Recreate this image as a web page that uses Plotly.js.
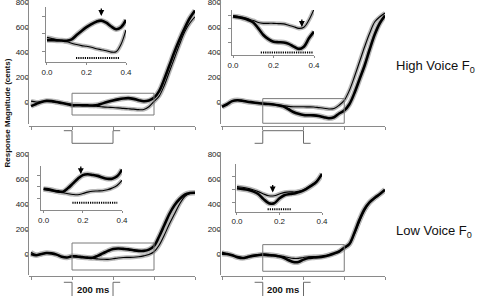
<!DOCTYPE html>
<html><head><meta charset="utf-8">
<script src="https://cdn.plot.ly/plotly-3.0.1.min.js"></script>
<style>html,body{margin:0;padding:0;background:#fff}#chart{width:480px;height:296px}</style>
</head><body><div id="chart"></div>
<script>
// ---------- data ----------
const t = [-0.2,-0.175,-0.15,-0.125,-0.1,-0.075,-0.05,-0.025,0,0.025,0.05,0.075,0.1,0.125,0.15,0.175,0.2,0.225,0.25,0.275,0.3,0.325,0.35,0.375,0.4,0.425,0.45,0.475,0.5,0.525,0.55,0.575,0.6];

const hiLeftThick  = [-25,-8,8,17,15,8,0,-8,-18,-18,-19,-19,-20,-16,-3,9,20,29,36,39,33,22,14,20,41,95,190,300,410,510,600,680,740];
const hiLeftThin   = [15,8,10,15,13,6,0,-5,-10,-13,-16,-20,-23,-27,-31,-34,-36,-39,-43,-46,-49,-53,-52,-30,12,55,140,250,360,470,570,640,690];
const hiRightThick = [-30,-10,15,22,18,10,5,0,-5,-8,-12,-18,-27,-48,-72,-87,-96,-98,-99,-104,-114,-122,-114,-84,-60,-10,80,190,300,430,550,640,700];
const hiRightThin  = [-28,-8,14,21,17,10,4,-1,-3,-5,-8,-14,-20,-27,-30,-30,-30,-31,-32,-37,-42,-48,-44,-18,21,100,210,330,450,560,650,690,720];
const loLeftThick  = [10,0,10,18,15,5,-12,-18,-8,-10,-15,-19,-20,-5,15,35,50,54,51,47,40,35,35,45,74,150,240,330,400,450,485,498,500];
const loLeftThin   = [25,5,8,17,14,4,-12,-18,-12,-15,-18,-22,-25,-29,-32,-33,-28,-22,-18,-17,-16,-12,-5,6,28,80,160,250,330,410,470,495,500];
const loRightThick = [12,10,0,-15,-22,-15,-5,0,4,1,-2,-8,-18,-38,-54,-54,-35,-22,-18,-15,-9,1,14,30,60,90,180,285,370,425,460,490,525];
const loRightThin  = [25,12,-2,-15,-20,-14,-4,2,11,8,4,-2,-9,-18,-25,-25,-18,-12,-10,-10,-6,3,16,33,56,85,170,270,360,420,455,485,520];

const windowStart = 0, windowEnd = 0.4;          // zoomed analysis window (s)
const boxLow  = [-96, -162, -118, -128];          // window box, cents
const boxHigh = [78, 35, 98, 85];
const arrowT   = [0.275, 0.34, 0.19, 0.168];      // peak markers (s)
const arrowTip = [53, -43, 55, -12];              // cents
const sigStart = [0.147, 0.137, 0.147, 0.144];    // significance runs (s)
const sigEnd   = [0.369, 0.395, 0.376, 0.253];
const sigLevel = [-70, -135, -67, -77];           // cents
const stimLead = -0.04, stimOn = 0, stimOff = 0.2, stimTail = 0.235;
const stimDir  = [-1, 1, -1, -1];
const yTicks = [0, 200, 400, 600, 800];
const xTicks = [-0.2, 0, 0.2, 0.4, 0.6];
const insetXTicks = [0, 0.2, 0.4];
const rowLabels = ['High Voice F<sub>0</sub>', 'Low Voice F<sub>0</sub>'];
const yTitle = 'Response Magnitude (cents)';
const stimLabel = '200 ms';

const series = [[hiLeftThick, hiLeftThin],[hiRightThick, hiRightThin],[loLeftThick, loLeftThin],[loRightThick, loRightThin]];

// ---------- geometry (pixels) ----------
const W = 480, H = 296;
const px = p => p / W, py = p => 1 - p / H;
const panels = [
  {xd:[29,195], xr:[-0.21,0.6], yd:[0,124], yr:[-168,824], xpos:126, ixd:[46,126], ixr:[-0.005,0.4], iyd:[7,62], iyr:[-82,79], pyd:[129,145], pyr:[-1.135,0.135]},
  {xd:[221,385], xr:[-0.205,0.6], yd:[0,124], yr:[-168,824], xpos:126, ixd:[232,314], ixr:[-0.005,0.4], iyd:[10,55], iyr:[-144,18], pyd:[129,145], pyr:[-0.135,1.135]},
  {xd:[29,195], xr:[-0.21,0.6], yd:[152,274.5], yr:[-154,826], xpos:276, ixd:[41,122], ixr:[-0.013,0.4], iyd:[166,210], iyr:[-98,89], pyd:[280,296], pyr:[-0.6,0.1]},
  {xd:[221,385], xr:[-0.205,0.6], yd:[152,274.5], yr:[-154,826], xpos:276, ixd:[235.5,322], ixr:[-0.007,0.4], iyd:[164,211.5], iyr:[-86,98], pyd:[280,296], pyr:[-0.6,0.1]}
];

const AX = '#8a8a8a', HALO = '#b8b8b8';
const FONT = '"Liberation Sans", Arial, Helvetica, sans-serif';
const id = n => n === 1 ? '' : String(n);

const traces = [];
const layout = {
  width: W, height: H, margin:{l:0,r:0,t:0,b:0}, showlegend:false,
  paper_bgcolor:'white', plot_bgcolor:'white',
  font:{family:FONT, size:8, color:'#222'},
  shapes:[], annotations:[]
};

function addCurves(xr, yr, xs, thick, thin) {
  const common = {type:'scatter', mode:'lines', xaxis:xr, yaxis:yr, x:xs, hoverinfo:'skip'};
  traces.push(Object.assign({}, common, {y:thin,  line:{color:HALO, width:4.2, shape:'spline'}}));
  traces.push(Object.assign({}, common, {y:thick, line:{color:HALO, width:5.4, shape:'spline'}}));
  traces.push(Object.assign({}, common, {y:thin,  line:{color:'#000', width:1.1, shape:'spline'}}));
  traces.push(Object.assign({}, common, {y:thick, line:{color:'#000', width:2.6, shape:'spline'}}));
}

panels.forEach((p, i) => {
  const m = i + 1, n = i + 5, q = i + 9;
  const [thick, thin] = series[i];
  layout['xaxis' + id(m)] = {domain:[px(p.xd[0]), px(p.xd[1])], range:p.xr, anchor:'free', position:py(p.xpos),
    showline:true, linecolor:AX, linewidth:1, ticks:'outside', ticklen:3, tickcolor:AX, tickvals:xTicks,
    showticklabels:false, showgrid:false, zeroline:false, fixedrange:true};
  layout['yaxis' + id(m)] = {domain:[py(p.yd[1]), py(p.yd[0])], range:p.yr, anchor:'x' + id(m),
    showline:true, linecolor:AX, linewidth:1, ticks:'outside', ticklen:3, tickcolor:AX, tickvals:yTicks,
    showticklabels:false, showgrid:false, zeroline:false, fixedrange:true};
  // y tick labels drawn as a text trace on the panel's own scales
  traces.push({type:'scatter', mode:'text', xaxis:'x' + id(m), yaxis:'y' + id(m),
    x:yTicks.map(() => p.xr[0]), y:yTicks, text:yTicks.map(String), textposition:'middle left',
    textfont:{size:8, color:'#222', family:FONT}, cliponaxis:false, hoverinfo:'skip'});
  addCurves('x' + id(m), 'y' + id(m), t, thick, thin);
  layout.shapes.push({type:'rect', xref:'x' + id(m), yref:'y' + id(m), x0:windowStart, x1:windowEnd,
    y0:boxLow[i], y1:boxHigh[i], line:{color:'#7a7a7a', width:1}});

  layout['xaxis' + n] = {domain:[px(p.ixd[0]), px(p.ixd[1])], range:p.ixr, anchor:'y' + n,
    showline:true, linecolor:AX, linewidth:1, ticks:'outside', ticklen:2, tickcolor:AX, tickvals:insetXTicks,
    tickformat:'.1f', tickfont:{size:8, color:'#222'}, showgrid:false, zeroline:false, fixedrange:true};
  layout['yaxis' + n] = {domain:[py(p.iyd[1]), py(p.iyd[0])], range:p.iyr, anchor:'x' + n,
    showline:true, linecolor:AX, linewidth:1, ticks:'outside', ticklen:3, tickcolor:AX, tick0:0, dtick:50,
    showticklabels:false, showgrid:false, zeroline:false, fixedrange:true};
  const wx = [], wThick = [], wThin = [];
  t.forEach((v, k) => { if (v >= windowStart && v <= windowEnd) { wx.push(v); wThick.push(thick[k]); wThin.push(thin[k]); } });
  addCurves('x' + n, 'y' + n, wx, wThick, wThin);
  traces.push({type:'scatter', mode:'lines', xaxis:'x' + n, yaxis:'y' + n, x:[sigStart[i], sigEnd[i]],
    y:[sigLevel[i], sigLevel[i]], line:{color:'#000', width:2, dash:'1.2px,1px'}, hoverinfo:'skip'});
  layout.annotations.push({xref:'x' + n, yref:'y' + n, x:arrowT[i], y:arrowTip[i], ax:0, ay:-9, text:'',
    showarrow:true, arrowhead:2, arrowsize:0.9, arrowwidth:1.3, arrowcolor:'#000', standoff:0});

  layout['yaxis' + q] = {domain:[py(p.pyd[1]), py(p.pyd[0])], range:p.pyr, anchor:'x' + id(m), visible:false, fixedrange:true};
  const d = stimDir[i];
  traces.push({type:'scatter', mode:'lines', xaxis:'x' + id(m), yaxis:'y' + q,
    x:[stimLead, stimOn, stimOn, stimOff, stimOff, stimTail], y:[0, 0, d, d, 0, 0],
    line:{color:'#6a6a6a', width:1}, hoverinfo:'skip'});
  if (i >= 2) {
    layout.annotations.push({xref:'x' + id(m), yref:'y' + q, x:(stimOn + stimOff) / 2, y:-0.33, text:'<b>' + stimLabel + '</b>',
      showarrow:false, font:{size:9.5, color:'#111'}, xanchor:'center', yanchor:'middle'});
  }
});

layout.annotations.push({xref:'paper', yref:'paper', x:px(6.5), y:py(113), text:'<b>' + yTitle + '</b>', textangle:-90,
  showarrow:false, font:{size:8, color:'#111'}, xanchor:'center', yanchor:'middle'});
layout.annotations.push({xref:'paper', yref:'paper', x:px(394), y:py(67), text:rowLabels[0], showarrow:false,
  font:{size:13, color:'#111'}, xanchor:'left', yanchor:'middle'});
layout.annotations.push({xref:'paper', yref:'paper', x:px(394), y:py(231), text:rowLabels[1], showarrow:false,
  font:{size:13, color:'#111'}, xanchor:'left', yanchor:'middle'});

Plotly.newPlot('chart', traces, layout, {staticPlot:true, displayModeBar:false});
</script>
</body></html>
